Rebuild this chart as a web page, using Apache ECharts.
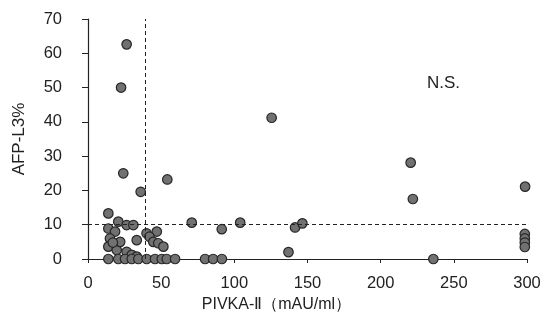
<!DOCTYPE html>
<html>
<head>
<meta charset="utf-8">
<script src="https://cdn.jsdelivr.net/npm/echarts@6/dist/echarts.min.js"></script>
<style>
  html, body { margin: 0; padding: 0; background: #fff; }
  #chart { width: 549px; height: 323px; }
</style>
</head>
<body>
<div id="chart"></div>
<script>
// PIVKA-II (mAU/ml) vs AFP-L3 (%)
const pivka = [
  26.4, 22.6, 125.5, 220.5, 222, 298.7, 24.1, 54.2, 36, 13.9,
  20.7, 26.4, 31, 70.9, 104, 91.4, 141.5, 146.5, 137, 13.9,
  18.5, 15, 13.9, 19.6, 22, 17, 33.3, 40, 47, 42,
  44.6, 48, 51.5, 26.4, 29.9, 33.3,
  13.9, 20.7, 25.3, 29.9, 34.4, 40.1, 45.8, 50.4, 53.8, 59.5,
  80, 85.5, 91.5, 236,
  298.5, 298.5, 298.5, 298.5
]
const afp = [
  62.6, 50, 41.2, 28.1, 17.5, 21.1, 25, 23.2, 19.6, 13.3,
  10.9, 9.9, 9.9, 10.6, 10.6, 8.7, 9.2, 10.4, 2, 8.9,
  8, 6, 3.6, 2.6, 5, 4.8, 5.5, 7.5, 8, 6.5,
  5, 4.6, 3.6, 2.1, 1.2, 0.7,
  0, 0, 0, 0, 0, 0, 0, 0, 0, 0,
  0, 0, 0, 0,
  7.3, 6, 4.8, 3.5
]
const cutX = 39
const cutY = 10
const xTicks = [0, 50, 100, 150, 200, 250, 300]
const yTicks = [0, 10, 20, 30, 40, 50, 60, 70]

const chart = echarts.init(document.getElementById('chart'))
const font = 'Liberation Sans'
const option = {
  animation: false,
  grid: { left: 88, top: 19, right: 22, bottom: 64 },
  title: {
    text: 'N.S.',
    left: 422,
    top: 70,
    textStyle: { fontFamily: font, fontSize: 17, fontWeight: 'normal', color: '#222' }
  },
  xAxis: {
    type: 'value',
    min: xTicks[0],
    max: xTicks[xTicks.length - 1],
    interval: 50,
    name: 'PIVKA-Ⅱ（mAU/ml）',
    nameLocation: 'middle',
    nameGap: 35,
    nameTextStyle: { fontFamily: font, fontSize: 16, color: '#222', padding: [0, 62, 0, 0] },
    axisLine: { lineStyle: { color: '#222', width: 1.2 } },
    axisTick: { show: true, length: 4, lineStyle: { color: '#222' } },
    axisLabel: { fontFamily: font, fontSize: 16.5, color: '#222', margin: 16 },
    splitLine: { show: false }
  },
  yAxis: {
    type: 'value',
    min: yTicks[0],
    max: yTicks[yTicks.length - 1],
    interval: 10,
    name: 'AFP-L3%',
    nameLocation: 'middle',
    nameRotate: 90,
    nameGap: 60,
    nameTextStyle: { fontFamily: font, fontSize: 17, color: '#222' },
    axisLine: { show: true, lineStyle: { color: '#222', width: 1.2 } },
    axisTick: { show: true, length: 6, lineStyle: { color: '#222' } },
    axisLabel: { fontFamily: font, fontSize: 16.5, color: '#222', margin: 26 },
    splitLine: { show: false }
  },
  series: [{
    type: 'scatter',
    symbolSize: 9.5,
    data: pivka.map((x, i) => [x, afp[i]]),
    itemStyle: { color: '#717171', borderColor: '#262626', borderWidth: 1.2, opacity: 1 },
    markLine: {
      silent: true,
      symbol: 'none',
      label: { show: false },
      lineStyle: { color: '#222', type: [4, 3], width: 1 },
      data: [{ xAxis: cutX }, { yAxis: cutY }]
    }
  }]
}
chart.setOption(option)
</script>
</body>
</html>
